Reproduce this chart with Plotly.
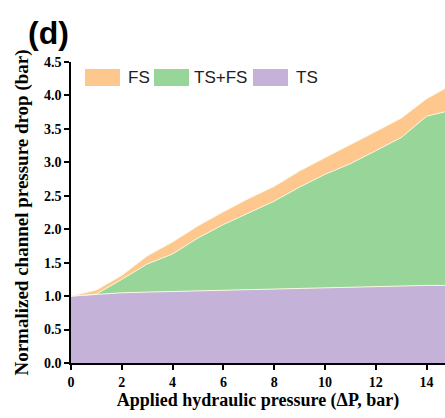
import plotly.graph_objects as go

# ---- data ----
pressure = [0, 1, 2, 3, 4, 5, 6, 7, 8, 9, 10, 11, 12, 13, 14, 15]
ts = [1.00, 1.03, 1.05, 1.06, 1.07, 1.08, 1.09, 1.10, 1.11, 1.11, 1.13, 1.14, 1.15, 1.15, 1.16, 1.16]
ts_fs = [0.00, 0.00, 0.20, 0.42, 0.56, 0.79, 0.98, 1.15, 1.31, 1.52, 1.69, 1.84, 2.02, 2.22, 2.53, 2.62]
fs = [0.00, 0.06, 0.06, 0.12, 0.18, 0.18, 0.19, 0.21, 0.22, 0.24, 0.25, 0.28, 0.29, 0.29, 0.26, 0.38]
series_names = ["TS", "TS+FS", "FS"]
series_values = [ts, ts_fs, fs]
series_colors = ["#C4B2D8", "#98D598", "#FDC78E"]
x_ticks = [0, 2, 4, 6, 8, 10, 12, 14]
y_ticks = [0.0, 0.5, 1.0, 1.5, 2.0, 2.5, 3.0, 3.5, 4.0, 4.5]

W, H = 445, 418
L, T, R, B = 71, 62, 0, 55
PW, PH = W - L - R, H - T - B

fig = go.Figure()
for name, vals, col in zip(series_names, series_values, series_colors):
    fig.add_trace(go.Scatter(
        x=pressure, y=vals, name=name, stackgroup="one", mode="lines",
        line=dict(color="rgba(250,246,225,1)", width=1),
        fillcolor=col, showlegend=False, hoverinfo="skip"))

serif = "Liberation Serif"
sans = "Liberation Sans"

# custom legend (swatches + labels)
def px(xp):
    return (xp - L) / PW

def py(yp):
    return (T + PH - yp) / PH

legend_items = [("FS", "#FDC78E", 85, 126), ("TS+FS", "#98D598", 154, 192), ("TS", "#C4B2D8", 253, 294)]
shapes = []
annotations = []
for name, col, sx, tx in legend_items:
    shapes.append(dict(type="rect", xref="paper", yref="paper",
                       x0=px(sx), x1=px(sx + 35), y0=py(86), y1=py(69),
                       fillcolor=col, line=dict(width=0), layer="above"))
    annotations.append(dict(text=name, xref="paper", yref="paper", x=px(tx), y=py(77.5),
                            xanchor="left", yanchor="middle", showarrow=False,
                            font=dict(family=sans, size=17, color="#222")))

annotations.append(dict(text="<b>(d)</b>", xref="paper", yref="paper",
                        x=px(48), y=py(33), xanchor="center", yanchor="middle",
                        showarrow=False, font=dict(family=sans, size=32, color="black")))

fig.update_layout(
    width=W, height=H,
    margin=dict(l=L, r=R, t=T, b=B),
    plot_bgcolor="white", paper_bgcolor="white",
    shapes=shapes, annotations=annotations,
    xaxis=dict(range=[0, PW / 25.4], tickvals=x_ticks, ticktext=[f"<b>{v}</b>" for v in x_ticks],
               showgrid=False, zeroline=False, showline=True, linecolor="black", linewidth=1.5,
               ticks="outside", ticklen=5, tickwidth=1.5, tickcolor="black",
               tickfont=dict(family=serif, size=14, color="black"),
               title=dict(text="<b>Applied hydraulic pressure (ΔP, bar)</b>", standoff=4,
                          font=dict(family=serif, size=18, color="black"))),
    yaxis=dict(range=[0, 4.5], tickvals=y_ticks, ticktext=[f"<b>{v:.1f}</b>" for v in y_ticks],
               showgrid=False, zeroline=False, showline=True, linecolor="black", linewidth=1.5,
               ticks="outside", ticklen=5, tickwidth=1.5, tickcolor="black",
               tickfont=dict(family=serif, size=14, color="black"),
               title=dict(text="<b>Normalized channel pressure drop (bar)</b>", standoff=10,
                          font=dict(family=serif, size=19, color="black"))),
)

fig.write_html("out.html", config={"displayModeBar": False},
               post_script="document.body.style.margin='0';document.body.style.overflow='hidden';")
